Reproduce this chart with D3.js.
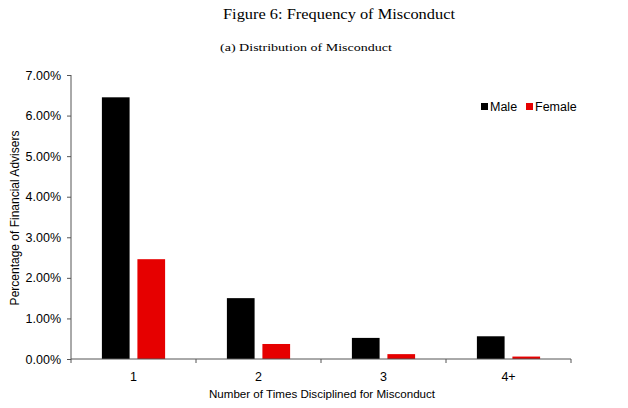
<!DOCTYPE html>
<html><head><meta charset="utf-8">
<script src="https://cdn.jsdelivr.net/npm/d3@7"></script>
<style>body{margin:0;background:#fff}svg{display:block}</style>
</head><body>
<svg id="c" width="628" height="408"></svg>
<script>
const categories = ["1", "2", "3", "4+"];
const seriesNames = ["Male", "Female"];
const maleValues = [6.45, 1.50, 0.52, 0.56];
const femaleValues = [2.46, 0.37, 0.12, 0.06];
const yTicks = [0, 1, 2, 3, 4, 5, 6, 7];
const colors = ["#000000", "#e60000"];

(function(){
const svg = d3.select("#c");
const pL = 71, pR = 571, pT = 75, pB = 359;

const x = d3.scaleBand().domain(categories).range([pL, pR]).paddingInner(0).paddingOuter(0);
const y = d3.scaleLinear().domain([0, 7]).range([pB, pT]);
const xs = d3.scaleBand().domain(seriesNames).range([0, x.bandwidth()]).paddingInner(0.22).paddingOuter(0.87);

svg.append("text").attr("x", 223).attr("y", 19)
  .attr("font-family", "Liberation Serif, serif").attr("font-size", 14)
  .attr("textLength", 232).attr("lengthAdjust", "spacingAndGlyphs")
  .text("Figure 6: Frequency of Misconduct");
svg.append("text").attr("x", 220).attr("y", 51)
  .attr("font-family", "Liberation Serif, serif").attr("font-size", 11)
  .attr("textLength", 172).attr("lengthAdjust", "spacingAndGlyphs")
  .text("(a) Distribution of Misconduct");

const data = categories.map((c, i) => ({c, vals: [maleValues[i], femaleValues[i]]}));
const g = svg.append("g");
data.forEach(d => {
  d.vals.forEach((v, j) => {
    g.append("rect")
      .attr("x", x(d.c) + xs(seriesNames[j]))
      .attr("width", xs.bandwidth())
      .attr("y", y(v))
      .attr("height", pB - y(v))
      .attr("fill", colors[j]);
  });
});

const axisColor = "#555";
const ya = svg.append("g").attr("transform", `translate(${pL},0)`)
  .call(d3.axisLeft(y).tickValues(yTicks).tickSize(4).tickPadding(6).tickFormat(d => d.toFixed(2) + "%"));
ya.selectAll("path,line").attr("stroke", axisColor);
ya.selectAll("text").attr("font-family", "Liberation Sans, Arial, sans-serif").attr("font-size", 12.5).attr("fill", "#000");
ya.select(".domain").attr("d", `M0,${pT}V${pB}`);

const xa = svg.append("g").attr("transform", `translate(0,${pB})`)
  .call(d3.axisBottom(x).tickSize(0).tickPadding(13));
xa.select(".domain").attr("stroke", axisColor).attr("d", `M${pL},0H${pR}`);
xa.selectAll("text").attr("font-family", "Liberation Sans, Arial, sans-serif").attr("font-size", 12.5).attr("fill", "#000");
const bounds = categories.map(c => x(c)).concat([x(categories[categories.length-1]) + x.bandwidth()]);
xa.selectAll(".bnd").data(bounds).enter().append("line").attr("class", "bnd")
  .attr("x1", d => d).attr("x2", d => d).attr("y1", 0).attr("y2", 4).attr("stroke", axisColor);

svg.append("text").attr("transform", "translate(19,218) rotate(-90)").attr("text-anchor", "middle")
  .attr("font-family", "Liberation Sans, Arial, sans-serif").attr("font-size", 12)
  .text("Percentage of Financial Advisers");
svg.append("text").attr("x", 322).attr("y", 398).attr("text-anchor", "middle")
  .attr("font-family", "Liberation Sans, Arial, sans-serif").attr("font-size", 11.6)
  .text("Number of Times Disciplined for Misconduct");

const legX = [481, 526];
seriesNames.forEach((s, i) => {
  svg.append("rect").attr("x", legX[i]).attr("y", 103).attr("width", 7).attr("height", 7).attr("fill", colors[i]);
  svg.append("text").attr("x", legX[i] + 9).attr("y", 111)
    .attr("font-family", "Liberation Sans, Arial, sans-serif").attr("font-size", 12.5).text(s);
});
})();
</script>
</body></html>
